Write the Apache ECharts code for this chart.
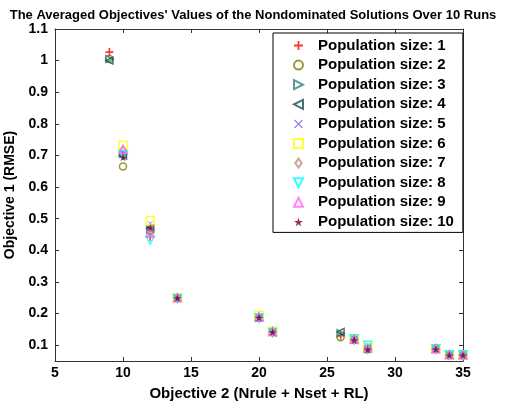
<!DOCTYPE html>
<html>
<head>
<meta charset="utf-8">
<script src="https://cdn.jsdelivr.net/npm/echarts@6/dist/echarts.min.js"></script>
<style>
    html, body { margin: 0; padding: 0; background: #fff; }
    #scatter { width: 506px; height: 401px; }
</style>
</head>
<body>
<div id="scatter"></div>
<script>
    // objective 2 values (x) shared by all runs
    var xValues = [9, 10, 12, 14, 20, 21, 26, 27, 28, 33, 34, 35];
    // objective 1 (RMSE) per population size, null = no point
    var pop1  = [1.027, 0.700, 0.443, 0.249, 0.187, 0.141, 0.130, 0.117, 0.088, 0.087, 0.068, 0.068];
    var pop2  = [1.005, 0.665, 0.460, 0.249, 0.186, 0.141, 0.125, 0.117, 0.087, 0.088, 0.068, 0.068];
    var pop3  = [1.005, 0.705, 0.465, 0.250, 0.187, 0.142, 0.138, 0.118, 0.088, 0.087, 0.069, 0.069];
    var pop4  = [1.000, 0.700, 0.470, 0.250, 0.188, 0.141, 0.142, 0.117, 0.090, 0.088, 0.068, 0.068];
    var pop5  = [null, 0.710, 0.485, 0.249, 0.187, 0.141, null, 0.118, 0.088, 0.087, 0.068, 0.068];
    var pop6  = [null, 0.732, 0.494, 0.250, 0.195, 0.145, null, 0.120, 0.093, 0.089, 0.070, 0.070];
    var pop7  = [null, 0.715, 0.460, 0.249, 0.188, 0.142, null, 0.118, 0.089, 0.088, 0.069, 0.069];
    var pop8  = [null, 0.703, 0.432, 0.247, 0.186, 0.140, null, 0.120, 0.100, 0.089, 0.070, 0.070];
    var pop9  = [null, 0.720, 0.455, 0.250, 0.190, 0.143, null, 0.119, 0.092, 0.089, 0.070, 0.069];
    var pop10 = [null, 0.694, 0.472, 0.249, 0.187, 0.141, null, 0.116, 0.086, 0.087, 0.068, 0.068];
    var yTicks = [0.1, 0.2, 0.3, 0.4, 0.5, 0.6, 0.7, 0.8, 0.9, 1, 1.1];

    var font = 'Liberation Sans, Arial, sans-serif';
    var plusPath = 'path://M4,0H6V4H10V6H6V10H4V6H0V4H4Z';
    var crossPath = 'path://M0,1L1,0L5,4L9,0L10,1L6,5L10,9L9,10L5,6L1,10L0,9L4,5Z';
    var starPath = 'path://M10,0L12.25,6.91L19.51,6.91L13.63,11.18L15.88,18.09L10,13.82L4.12,18.09L6.37,11.18L0.49,6.91L7.75,6.91Z';

    var styles = [
        {name: 'Population size: 1', data: pop1, symbol: plusPath, size: 8, color: '#ff0000', fill: true},
        {name: 'Population size: 2', data: pop2, symbol: 'circle', size: 7, color: '#808000'},
        {name: 'Population size: 3', data: pop3, symbol: 'path://M0,0L10,5L0,10Z', size: 7, color: '#2e7f7f'},
        {name: 'Population size: 4', data: pop4, symbol: 'path://M10,0L0,5L10,10Z', size: 7, color: '#1d4f4f'},
        {name: 'Population size: 5', data: pop5, symbol: crossPath, size: 5, color: '#6666ff', fill: true},
        {name: 'Population size: 6', data: pop6, symbol: 'path://M0,0H10V10H0Z', size: 8, color: '#ffff00'},
        {name: 'Population size: 7', data: pop7, symbol: 'path://M5,0L10,7L5,14L0,7Z', size: 9, color: '#bf8c7f'},
        {name: 'Population size: 8', data: pop8, symbol: 'path://M0,0L10,0L5,10Z', size: 8, color: '#00ffff'},
        {name: 'Population size: 9', data: pop9, symbol: 'path://M5,0L10,10L0,10Z', size: 8, color: '#ff66ff'},
        {name: 'Population size: 10', data: pop10, symbol: starPath, size: 8, color: '#7f0040', fill: true}
    ];

    var series = styles.map(function (s) {
        var pts = [];
        s.data.forEach(function (v, i) {
            if (v !== null) pts.push([xValues[i], v]);
        });
        return {
            name: s.name,
            type: 'scatter',
            symbol: s.symbol,
            symbolSize: s.size,
            symbolKeepAspect: true,
            itemStyle: s.fill ? {color: s.color} : {color: 'rgba(255,255,255,0)', borderColor: s.color, borderWidth: 1.5},
            emphasis: {disabled: true},
            data: pts
        };
    });

    var myChart = echarts.init(document.getElementById('scatter'));
    var option = {
        animation: false,
        backgroundColor: '#fff',
        title: {
            text: "The Averaged Objectives' Values of the Nondominated Solutions Over 10 Runs",
            left: 'center',
            top: 4,
            textStyle: {fontFamily: font, fontSize: 13, fontWeight: 'bold', color: '#000'}
        },
        legend: {
            orient: 'vertical',
            left: 273,
            top: 33,
            padding: [5, 9, 3, 20],
            itemWidth: 9,
            itemHeight: 9,
            itemGap: 4.6,
            backgroundColor: '#fff',
            borderColor: '#000',
            borderWidth: 1,
            textStyle: {fontFamily: font, fontSize: 15, fontWeight: 'bold', color: '#000', lineHeight: 14, padding: [0, 0, 0, 10]}
        },
        grid: {left: 55, right: 43, top: 29, bottom: 40, outerBoundsMode: 'none'},
        xAxis: [{
            type: 'value', min: 5, max: 35, interval: 5,
            name: 'Objective 2 (Nrule + Nset + RL)',
            nameLocation: 'middle', nameGap: 25,
            nameTextStyle: {fontFamily: font, fontSize: 15, fontWeight: 'bold', color: '#000'},
            axisLine: {lineStyle: {color: '#333'}},
            axisTick: {inside: true, length: 4, lineStyle: {color: '#333'}},
            axisLabel: {fontFamily: font, fontSize: 14, fontWeight: 'bold', color: '#000', margin: 5},
            splitLine: {show: false}
        }, {
            type: 'value', min: 5, max: 35, interval: 5, position: 'top',
            axisLine: {lineStyle: {color: '#333'}},
            axisTick: {inside: true, length: 4, lineStyle: {color: '#333'}},
            axisLabel: {show: false},
            splitLine: {show: false}
        }],
        yAxis: [{
            type: 'value', min: 0.05, max: 1.1,
            name: 'Objective 1 (RMSE)',
            nameLocation: 'middle', nameGap: 32,
            nameTextStyle: {fontFamily: font, fontSize: 14, fontWeight: 'bold', color: '#000'},
            axisLine: {show: true, lineStyle: {color: '#333'}},
            axisTick: {inside: true, length: 4, customValues: yTicks, lineStyle: {color: '#333'}},
            axisLabel: {fontFamily: font, fontSize: 14, fontWeight: 'bold', color: '#000', margin: 7, customValues: yTicks},
            splitLine: {show: false}
        }, {
            type: 'value', min: 0.05, max: 1.1, position: 'right',
            axisLine: {show: true, lineStyle: {color: '#333'}},
            axisTick: {inside: true, length: 4, customValues: yTicks, lineStyle: {color: '#333'}},
            axisLabel: {show: false},
            splitLine: {show: false}
        }],
        series: series
    };
    myChart.setOption(option);
</script>
</body>
</html>
